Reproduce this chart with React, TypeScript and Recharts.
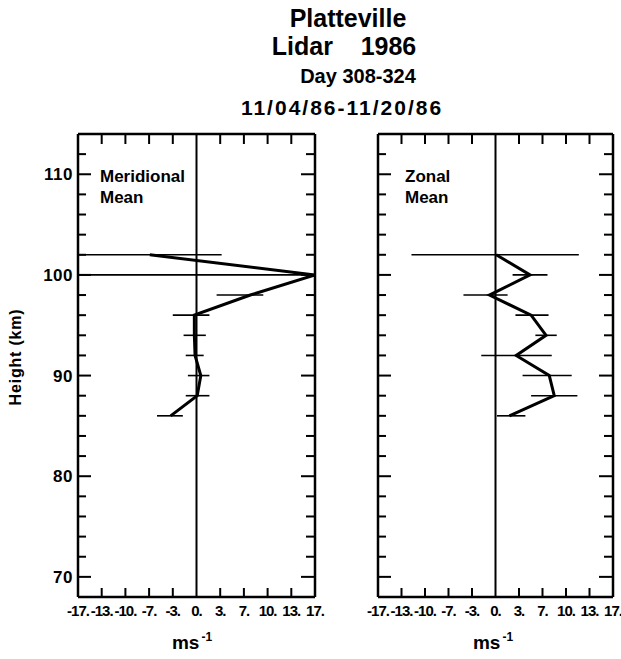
import React from 'react';
import { ScatterChart, Scatter, XAxis, YAxis, ErrorBar, ReferenceLine } from 'recharts';

// Heights (km)
const heights = [102, 100, 98, 96, 94, 92, 90, 88, 86];
// Meridional mean wind (m/s) and error extents (as drawn, within the plotted range)
const meridional = [-6.5, 16.5, 7.5, -0.3, -0.3, -0.2, 0.6, 0.1, -3.6];
const meridionalErrLow = [10.0, 33, 4.7, 3.0, 1.5, 1.3, 1.8, 1.6, 1.9];
const meridionalErrHigh = [10.0, 0, 1.8, 2.1, 1.6, 1.2, 1.2, 1.7, 1.7];
// Zonal mean wind (m/s) and error extents
const zonal = [0.1, 4.85, -0.85, 5.0, 7.1, 2.9, 7.55, 8.25, 1.95];
const zonalErrLow = [11.9, 2.45, 3.65, 2.2, 1.5, 4.9, 3.75, 3.25, 1.75];
const zonalErrHigh = [11.6, 2.45, 2.55, 2.45, 1.5, 5.0, 3.15, 3.25, 2.25];

// Axes
const xTicks = [-16.5, -13.2, -9.9, -6.6, -3.3, 0, 3.3, 6.6, 9.9, 13.2, 16.5];
const xTickLabels = ['-17.', '-13.', '-10.', '-7.', '-3.', '0.', '3.', '7.', '10.', '13.', '17.'];
const xDomain = [-16.5, 16.5];
const yTicks = [70, 72, 74, 76, 78, 80, 82, 84, 86, 88, 90, 92, 94, 96, 98, 100, 102, 104, 106, 108, 110, 112];
const yDomain = [68, 114];

const FONT = '"Liberation Sans", Arial, sans-serif';

const build = (vals: number[], lo: number[], hi: number[]) =>
  heights.map((h, i) => ({ h, v: vals[i], err: [lo[i], hi[i]] }));

const meridionalData = build(meridional, meridionalErrLow, meridionalErrHigh);
const zonalData = build(zonal, zonalErrLow, zonalErrHigh);

const LeftTick = (props: any) => {
  const { x, y, payload, showLabels } = props;
  const v = payload.value;
  const major = v % 10 === 0;
  return (
    <g>
      <line x1={x} x2={x + (major ? 13 : 8)} y1={y} y2={y} stroke="#000" strokeWidth={2} />
      {showLabels && major ? (
        <text x={x - 5} y={y} dy={6} textAnchor="end" fontFamily={FONT} fontWeight="bold" fontSize={17} letterSpacing={0.5} fill="#000">
          {v}
        </text>
      ) : null}
    </g>
  );
};

const RightTick = (props: any) => {
  const { x, y, payload } = props;
  const major = payload.value % 10 === 0;
  return <line x1={x} x2={x - (major ? 14 : 9)} y1={y} y2={y} stroke="#000" strokeWidth={2} />;
};

const BottomTick = (props: any) => {
  const { x, y, payload, index } = props;
  const v = payload.value;
  const edge = Math.abs(v) > 16 || v === 0;
  return (
    <g>
      {!edge ? <line x1={x} x2={x} y1={y} y2={y - 9} stroke="#000" strokeWidth={2} /> : null}
      <text x={x} y={y} dy={19} textAnchor="middle" fontFamily={FONT} fontWeight="bold" fontSize={15} letterSpacing={-1} fill="#000">
        {xTickLabels[index]}
      </text>
    </g>
  );
};

const TopTick = (props: any) => {
  const { x, y, payload } = props;
  const v = payload.value;
  const edge = Math.abs(v) > 16 || v === 0;
  return !edge ? <line x1={x} x2={x} y1={y} y2={y + 10} stroke="#000" strokeWidth={2} /> : <g />;
};

const axisLine = { stroke: '#000', strokeWidth: 2.5 };

const Panel = ({ left, width, yAxisWidth, marginRight, data, showYLabels }: any) => (
  <div style={{ position: 'absolute', left, top: 0 }}>
    <ScatterChart width={width} height={659} margin={{ top: 133, right: marginRight - 1, bottom: 32, left: 0 }}>
      <XAxis
        xAxisId="b"
        type="number"
        dataKey="v"
        orientation="bottom"
        domain={xDomain}
        ticks={xTicks}
        allowDataOverflow
        height={30}
        tickSize={0}
        tickMargin={0}
        tickLine={false}
        axisLine={axisLine}
        interval={0}
        tick={(p: any) => <BottomTick {...p} />}
      />
      <XAxis
        xAxisId="t"
        type="number"
        dataKey="v"
        orientation="top"
        domain={xDomain}
        ticks={xTicks}
        allowDataOverflow
        height={1}
        tickSize={0}
        tickMargin={0}
        tickLine={false}
        axisLine={axisLine}
        interval={0}
        tick={(p: any) => <TopTick {...p} />}
      />
      <YAxis
        yAxisId="l"
        type="number"
        dataKey="h"
        orientation="left"
        domain={yDomain}
        ticks={yTicks}
        allowDataOverflow
        width={yAxisWidth}
        tickSize={0}
        tickMargin={0}
        tickLine={false}
        axisLine={axisLine}
        interval={0}
        tick={(p: any) => <LeftTick {...p} showLabels={showYLabels} />}
      />
      <YAxis
        yAxisId="r"
        type="number"
        dataKey="h"
        orientation="right"
        domain={yDomain}
        ticks={yTicks}
        allowDataOverflow
        width={1}
        tickSize={0}
        tickMargin={0}
        tickLine={false}
        axisLine={axisLine}
        interval={0}
        tick={(p: any) => <RightTick {...p} />}
      />
      <ReferenceLine x={0} xAxisId="b" yAxisId="l" stroke="#000" strokeWidth={2} />
      <Scatter xAxisId="t" yAxisId="r" data={data} dataKey="v" isAnimationActive={false} shape={() => <g />} fill="none" />
      <Scatter
        xAxisId="b"
        yAxisId="l"
        data={data}
        dataKey="v"
        isAnimationActive={false}
        line={{ stroke: '#000', strokeWidth: 3 }}
        shape={() => <g />}
        fill="none"
      >
        <ErrorBar dataKey="err" direction="x" width={0} stroke="#000" strokeWidth={1.6} />
      </Scatter>
    </ScatterChart>
  </div>
);

const textStyle: React.CSSProperties = {
  position: 'absolute',
  fontFamily: FONT,
  fontWeight: 'bold',
  color: '#000',
  whiteSpace: 'pre',
};

const centered = (cx: number, top: number, size: number, extra: React.CSSProperties = {}): React.CSSProperties => ({
  ...textStyle,
  left: cx,
  top,
  fontSize: size,
  lineHeight: 1,
  transform: 'translateX(-50%)',
  ...extra,
});

export default function App() {
  return (
    <div style={{ position: 'absolute', left: 0, top: 0, width: 621, height: 659, background: '#fff', overflow: 'hidden' }}>
      <Panel left={0} width={340} yAxisWidth={78} marginRight={25} data={meridionalData} showYLabels={true} />
      <Panel left={340} width={281} yAxisWidth={38} marginRight={8} data={zonalData} showYLabels={false} />

      <div style={centered(348, 6, 25)}>Platteville</div>
      <div style={centered(344, 34, 25)}>{'Lidar    1986'}</div>
      <div style={centered(358, 66, 20)}>Day 308-324</div>
      <div style={centered(342, 97, 21, { letterSpacing: 2 })}>11/04/86-11/20/86</div>

      <div style={{ ...textStyle, left: 100, top: 166, fontSize: 17, lineHeight: '21px' }}>{'Meridional\nMean'}</div>
      <div style={{ ...textStyle, left: 405, top: 166, fontSize: 17, lineHeight: '21px' }}>{'Zonal\nMean'}</div>

      <div
        style={{
          ...textStyle,
          left: 16,
          top: 357,
          fontSize: 16,
          letterSpacing: 0.8,
          lineHeight: 1,
          transform: 'translate(-50%, -50%) rotate(-90deg)',
        }}
      >
        Height (km)
      </div>

      <div style={centered(192, 633, 19)}>
        ms<span style={{ fontSize: 12, position: 'relative', top: -8, marginLeft: 2 }}>-1</span>
      </div>
      <div style={centered(493, 633, 19)}>
        ms<span style={{ fontSize: 12, position: 'relative', top: -8, marginLeft: 2 }}>-1</span>
      </div>
    </div>
  );
}
